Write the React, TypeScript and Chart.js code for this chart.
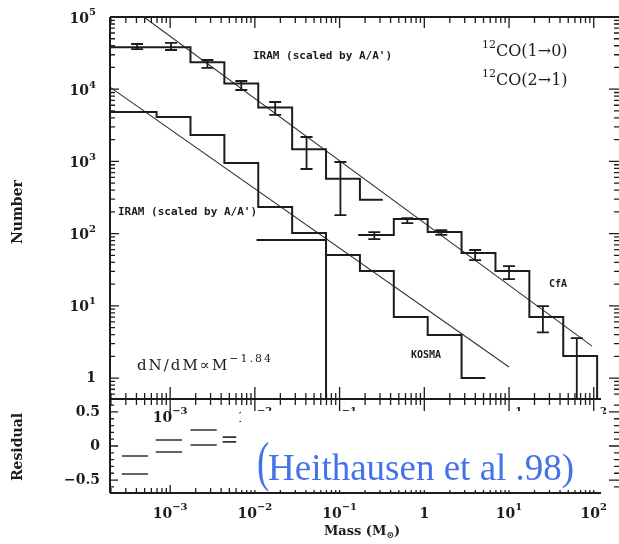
import React, { useEffect, useRef } from "react";
import { Chart, registerables } from "chart.js";
Chart.register(...registerables);

// ---------------- data (masses as log10 M_sun) ----------------
// IRAM 12CO(1-0) histogram (scaled by A/A')
const iram10EdgesLog = [-3.96, -3.56, -3.16, -2.76, -2.36, -1.96, -1.56, -1.16, -0.76, -0.49];
const iram10Counts = [38000, 38000, 38000, 23700, 12000, 5600, 1480, 575, 295];
// IRAM 12CO(2-1) histogram (scaled by A/A')
const iram21EdgesLog = [-3.96, -3.56, -3.16, -2.76, -2.36, -1.96, -1.56, -1.16, -0.76, -0.36, 0.04, 0.44, 0.72];
const iram21Counts = [4830, 4830, 4120, 2320, 950, 233, 102, 50.5, 30.4, 7.0, 3.94, 1.0];
// single-bin histogram dropping to zero
const kosmaEdgesLog = [-1.98, -1.16];
const kosmaCounts = [81.5];
// CfA histogram
const cfaEdgesLog = [-0.78, -0.36, 0.04, 0.44, 0.84, 1.24, 1.64, 2.04];
const cfaCounts = [95.8, 159, 105, 53.8, 30.3, 7.0, 2.02];
const histFloor = 0.1;

// error bars
const iramErrCentersLog = [-3.39, -2.99, -2.56, -2.16, -1.76, -1.39, -0.99];
const iramErrHigh = [42300, 43700, 25400, 13000, 6650, 2180, 982];
const iramErrLow = [36000, 34900, 19700, 9750, 4400, 785, 181];
const cfaErrCentersLog = [-0.59, -0.2, 0.2, 0.6, 1.0, 1.4, 1.8];
const cfaErrHigh = [105, 164, 112, 59.3, 35.6, 9.9, 3.58];
const cfaErrLow = [84, 140, 96, 43, 23.5, 4.3, 0.3];

// power-law fits dN/dM ~ M^-1.84 (end points)
const upperFitMassLog = [-3.31, 1.98];
const upperFitCounts = [100000, 2.77];
const lowerFitMassLog = [-3.71, 1.0];
const lowerFitCounts = [10700, 1.42];

// residuals
const residStartLog = [-3.57, -3.17, -2.76, -2.38];
const residEndLog = [-3.26, -2.86, -2.45, -2.22];
const residHigh = [-0.147, 0.088, 0.235, 0.13];
const residLow = [-0.41, -0.088, 0.015, 0.06];

// axes
const massMinLog = -3.71;
const massMaxLog = 2.31;
const numberMinLog = -0.29;
const numberMaxLog = 5;
const residMin = -0.69;
const residMax = 0.69;
const massTickExps = [-3, -2, -1, 0, 1, 2];
const numberTickExps = [0, 1, 2, 3, 4, 5];
const residTickLabels = [0.5, 0, -0.5];

// ---------------- helpers ----------------
const INK = "#1c1c1c";
const SERIF = '"DejaVu Serif", serif';
const MONO = '"DejaVu Sans Mono", monospace';

type Seg = [string, "n" | "sup" | "sub"];

function drawRich(ctx: CanvasRenderingContext2D, segs: Seg[], x: number, y: number, align: "left" | "center" | "right", size: number, family = SERIF, weight = "bold", spacing = 0) {
  ctx.save();
  ctx.textBaseline = "middle";
  ctx.textAlign = "left";
  (ctx as any).letterSpacing = spacing + "px";
  const fontFor = (k: string) => `${weight} ${k === "n" ? size : Math.round(size * 0.7)}px ${family}`;
  const widths = segs.map(([t, k]) => { ctx.font = fontFor(k); return ctx.measureText(t).width; });
  const total = widths.reduce((a, b) => a + b, 0);
  let cx = align === "left" ? x : align === "center" ? x - total / 2 : x - total;
  segs.forEach(([t, k], i) => {
    ctx.font = fontFor(k);
    const dy = k === "sup" ? -size * 0.45 : k === "sub" ? size * 0.3 : 0;
    ctx.fillText(t, cx, y + dy);
    cx += widths[i];
  });
  ctx.restore();
}

function powLabel(exp: number): Seg[] {
  if (exp === 0) return [["1", "n"]];
  return [["10", "n"], [exp < 0 ? "\u2212" + -exp : String(exp), "sup"]];
}

function logTicks(minLog: number, maxLog: number) {
  const out: { v: number; major: boolean }[] = [];
  for (let k = Math.floor(minLog); k <= Math.ceil(maxLog); k++) {
    for (let m = 1; m <= 9; m++) {
      const v = m * Math.pow(10, k);
      const lv = Math.log10(v);
      if (lv >= minLog - 1e-9 && lv <= maxLog + 1e-9) out.push({ v, major: m === 1 });
    }
  }
  return out;
}

function stepPoints(edgesLog: number[], counts: number[], dropTo?: number) {
  const pts: { x: number; y: number }[] = [];
  counts.forEach((c, i) => {
    pts.push({ x: Math.pow(10, edgesLog[i]), y: c });
    pts.push({ x: Math.pow(10, edgesLog[i + 1]), y: c });
  });
  if (dropTo !== undefined) pts.push({ x: Math.pow(10, edgesLog[counts.length]), y: dropTo });
  return pts;
}

function linePoints(xsLog: number[], ys: number[]) {
  return xsLog.map((l, i) => ({ x: Math.pow(10, l), y: ys[i] }));
}

function dashPoints(startLog: number[], endLog: number[], vals: number[]) {
  const pts: { x: number; y: number | null }[] = [];
  vals.forEach((v, i) => {
    pts.push({ x: Math.pow(10, startLog[i]), y: v });
    pts.push({ x: Math.pow(10, endLog[i]), y: v });
    pts.push({ x: Math.pow(10, endLog[i]), y: null });
  });
  return pts;
}

const X_LINE_END = 601;

// ---------------- plugins ----------------
const mainPlugin = {
  id: "mainDecor",
  afterDatasetsDraw(chart: any) {
    const { ctx, chartArea: a, scales } = chart;
    const x = scales.x, y = scales.y;
    ctx.save();
    ctx.strokeStyle = INK;
    ctx.lineWidth = 1.8;
    ctx.beginPath();
    ctx.rect(a.left, a.top, a.right - a.left, a.bottom - a.top);
    ctx.clip();
    const drawErr = (c: number[], hi: number[], lo: number[]) => {
      c.forEach((cl, i) => {
        const px = x.getPixelForValue(Math.pow(10, cl));
        const p1 = y.getPixelForValue(hi[i]);
        const p2 = y.getPixelForValue(lo[i]);
        ctx.beginPath();
        ctx.moveTo(px, p1); ctx.lineTo(px, p2);
        ctx.moveTo(px - 6, p1); ctx.lineTo(px + 6, p1);
        ctx.moveTo(px - 6, p2); ctx.lineTo(px + 6, p2);
        ctx.stroke();
      });
    };
    drawErr(iramErrCentersLog, iramErrHigh, iramErrLow);
    drawErr(cfaErrCentersLog, cfaErrHigh, cfaErrLow);
    ctx.restore();
  },
  afterDraw(chart: any) {
    const { ctx, chartArea: a, scales } = chart;
    const x = scales.x, y = scales.y;
    ctx.save();
    ctx.strokeStyle = INK;
    ctx.fillStyle = INK;
    ctx.lineWidth = 2;
    ctx.beginPath();
    ctx.moveTo(a.left, a.top); ctx.lineTo(a.right, a.top);
    ctx.moveTo(a.left, a.top); ctx.lineTo(a.left, a.bottom);
    ctx.moveTo(a.left, a.bottom); ctx.lineTo(X_LINE_END, a.bottom);
    ctx.moveTo(a.right, a.top); ctx.lineTo(a.right, a.bottom);
    ctx.stroke();
    ctx.lineWidth = 1.3;
    ctx.beginPath();
    logTicks(numberMinLog, numberMaxLog).forEach(({ v, major }) => {
      const py = y.getPixelForValue(v);
      ctx.moveTo(a.left, py); ctx.lineTo(a.left + (major ? 9 : 5), py);
      ctx.moveTo(a.right, py); ctx.lineTo(a.right - (major ? 11 : 6), py);
    });
    logTicks(massMinLog, massMaxLog).forEach(({ v, major }) => {
      const px = x.getPixelForValue(v);
      if (px > X_LINE_END) return;
      ctx.moveTo(px, a.top); ctx.lineTo(px, a.top + (major ? 11 : 6));
      ctx.moveTo(px, a.bottom - (major ? 12 : 6)); ctx.lineTo(px, a.bottom + (major ? 14 : 6));
    });
    ctx.stroke();
    numberTickExps.forEach((e) => {
      drawRich(ctx, powLabel(e), 96, y.getPixelForValue(Math.pow(10, e)) + (e === 0 ? 0 : 2), "right", 14);
    });
    massTickExps.forEach((e) => {
      if (e === 0) return;
      drawRich(ctx, powLabel(e), x.getPixelForValue(Math.pow(10, e)), a.bottom + 19, "center", 14);
    });
    ctx.save();
    ctx.translate(18, 212);
    ctx.rotate(-Math.PI / 2);
    ctx.font = `bold 14px ${SERIF}`;
    ctx.textAlign = "center";
    ctx.textBaseline = "middle";
    ctx.fillText("Number", 0, 0);
    ctx.restore();
    ctx.font = `bold 11px ${MONO}`;
    ctx.textBaseline = "middle";
    ctx.textAlign = "left";
    ctx.fillText("IRAM (scaled by A/A')", 253, 56);
    ctx.fillText("IRAM (scaled by A/A')", 118, 212);
    ctx.font = `bold 10px ${MONO}`;
    ctx.fillText("CfA", 549, 284);
    ctx.fillText("KOSMA", 411, 355);
    drawRich(ctx, [["12", "sup"], ["CO(1\u21920)", "n"]], 482, 52, "left", 16, SERIF, "normal");
    drawRich(ctx, [["12", "sup"], ["CO(2\u21921)", "n"]], 482, 81, "left", 16, SERIF, "normal");
    drawRich(ctx, [["dN/dM\u221DM", "n"], ["\u22121.84", "sup"]], 137, 366, "left", 15, SERIF, "normal", 2);
    ctx.restore();
  },
};

const residPlugin = {
  id: "residDecor",
  afterDraw(chart: any) {
    const { ctx, chartArea: a, scales } = chart;
    const x = scales.x, y = scales.y;
    ctx.save();
    ctx.strokeStyle = INK;
    ctx.fillStyle = INK;
    ctx.lineWidth = 2;
    ctx.beginPath();
    ctx.moveTo(a.left, a.top); ctx.lineTo(a.left, a.bottom);
    ctx.moveTo(a.left, a.bottom); ctx.lineTo(X_LINE_END, a.bottom);
    ctx.moveTo(a.right, a.top); ctx.lineTo(a.right, a.bottom);
    ctx.stroke();
    ctx.lineWidth = 1.3;
    ctx.beginPath();
    for (let i = -6; i <= 6; i++) {
      const v = i / 10;
      const major = i % 5 === 0;
      const py = y.getPixelForValue(v);
      ctx.moveTo(a.left, py); ctx.lineTo(a.left + (major ? 8 : 4), py);
      ctx.moveTo(a.right, py); ctx.lineTo(a.right - (major ? 11 : 6), py);
    }
    logTicks(massMinLog, massMaxLog).forEach(({ v, major }) => {
      const px = x.getPixelForValue(v);
      if (px > X_LINE_END) return;
      ctx.moveTo(px, a.bottom); ctx.lineTo(px, a.bottom - (major ? 8 : 5));
    });
    ctx.stroke();
    residTickLabels.forEach((v) => {
      ctx.font = `bold 14px ${SERIF}`;
      ctx.textAlign = "right";
      ctx.textBaseline = "middle";
      ctx.fillText(v < 0 ? "\u2212" + Math.abs(v) : String(v), 100, y.getPixelForValue(v));
    });
    massTickExps.forEach((e) => {
      drawRich(ctx, powLabel(e), x.getPixelForValue(Math.pow(10, e)), a.bottom + 21, "center", 14);
    });
    ctx.save();
    ctx.translate(18, 447);
    ctx.rotate(-Math.PI / 2);
    ctx.font = `bold 14px ${SERIF}`;
    ctx.textAlign = "center";
    ctx.textBaseline = "middle";
    ctx.fillText("Residual", 0, 0);
    ctx.restore();
    drawRich(ctx, [["Mass (M", "n"], ["\u2299", "sub"], [")", "n"]], 362, 532, "center", 13);
    ctx.fillStyle = "#ffffff";
    ctx.fillRect(241, 411, 362, 79);
    ctx.fillStyle = "#4472e8";
    ctx.font = `37px "Liberation Serif", serif`;
    ctx.textBaseline = "alphabetic";
    ctx.textAlign = "left";
    ctx.fillText("Heithausen et al .98)", 268, 480);
    ctx.save();
    ctx.translate(257, 465);
    ctx.scale(1, 1.5);
    ctx.textBaseline = "middle";
    ctx.fillText("(", 0, 0);
    ctx.restore();
    ctx.restore();
  },
};

const lineDs = (data: any[], width: number, color = INK) => ({
  data,
  borderColor: color,
  borderWidth: width,
  pointRadius: 0,
  fill: false,
  tension: 0,
  spanGaps: false,
});

export default function App() {
  const mainRef = useRef<HTMLCanvasElement>(null);
  const resRef = useRef<HTMLCanvasElement>(null);

  useEffect(() => {
    const common = {
      animation: false as const,
      responsive: false,
      devicePixelRatio: 1,
      events: [],
      plugins: { legend: { display: false }, tooltip: { enabled: false } },
    };
    const main = new Chart(mainRef.current!, {
      type: "line",
      data: {
        datasets: [
          lineDs(stepPoints(iram10EdgesLog, iram10Counts), 2),
          lineDs(stepPoints(iram21EdgesLog, iram21Counts), 2),
          lineDs(stepPoints(kosmaEdgesLog, kosmaCounts, histFloor), 2),
          lineDs(stepPoints(cfaEdgesLog, cfaCounts, histFloor), 2),
          lineDs(linePoints(upperFitMassLog, upperFitCounts), 1.1, "#333"),
          lineDs(linePoints(lowerFitMassLog, lowerFitCounts), 1.1, "#333"),
        ] as any,
      },
      options: {
        ...common,
        layout: { padding: { left: 110, right: 10, top: 17, bottom: 145 } },
        scales: {
          x: { type: "logarithmic", display: false, min: Math.pow(10, massMinLog), max: Math.pow(10, massMaxLog) },
          y: { type: "logarithmic", display: false, min: Math.pow(10, numberMinLog), max: Math.pow(10, numberMaxLog) },
        },
      } as any,
      plugins: [mainPlugin],
    });
    const resid = new Chart(resRef.current!, {
      type: "line",
      data: {
        datasets: [
          lineDs(dashPoints(residStartLog, residEndLog, residHigh), 1.6, "#333"),
          lineDs(dashPoints(residStartLog, residEndLog, residLow), 1.6, "#333"),
        ] as any,
      },
      options: {
        ...common,
        layout: { padding: { left: 110, right: 10, top: 399, bottom: 51 } },
        scales: {
          x: { type: "logarithmic", display: false, min: Math.pow(10, massMinLog), max: Math.pow(10, massMaxLog) },
          y: { type: "linear", display: false, min: residMin, max: residMax },
        },
      } as any,
      plugins: [residPlugin],
    });
    return () => {
      main.destroy();
      resid.destroy();
    };
  }, []);

  return (
    <div style={{ position: "fixed", left: 0, top: 0, width: 619, height: 544, overflow: "hidden", background: "#fff" }}>
      <canvas ref={mainRef} width={630} height={544} style={{ position: "absolute", left: 0, top: 0 }} />
      <canvas ref={resRef} width={630} height={544} style={{ position: "absolute", left: 0, top: 0 }} />
    </div>
  );
}
